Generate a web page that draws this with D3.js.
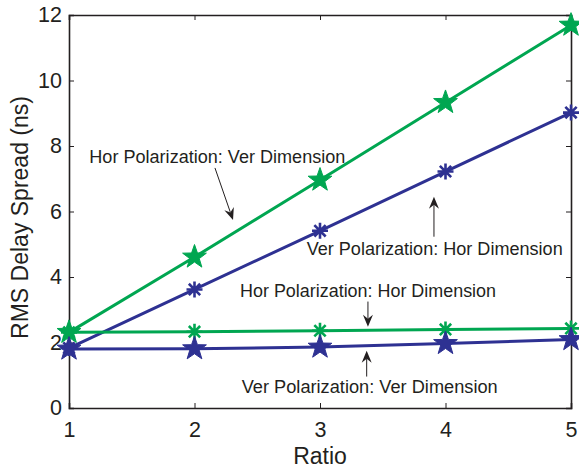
<!DOCTYPE html>
<html>
<head>
<meta charset="utf-8">
<script src="https://cdn.jsdelivr.net/npm/d3@7"></script>
<style>
  html, body { margin: 0; padding: 0; background: #fff; }
  svg text { font-family: "Liberation Sans", Arial, Helvetica, sans-serif; fill: #231f20; }
</style>
</head>
<body>
<svg id="chart" width="579" height="470"></svg>
<script>
// ---- data ----
const ratios = [1, 2, 3, 4, 5];
const horPolVerDim = [2.31, 4.61, 6.96, 9.33, 11.69];   // green, star
const verPolHorDim = [1.83, 3.62, 5.41, 7.22, 9.02];    // blue, asterisk
const horPolHorDim = [2.31, 2.33, 2.36, 2.40, 2.43];    // green, asterisk
const verPolVerDim = [1.80, 1.81, 1.86, 1.97, 2.09];    // blue, star
const xTicks = [1, 2, 3, 4, 5];
const yTicks = [0, 2, 4, 6, 8, 10, 12];
const xLabel = "Ratio";
const yLabel = "RMS Delay Spread (ns)";
const annotationTexts = [
  "Hor Polarization: Ver Dimension",
  "Ver Polarization: Hor Dimension",
  "Hor Polarization: Hor Dimension",
  "Ver Polarization: Ver Dimension"
];
// text anchor positions (data units)
const annotationTextX = [1.162, 2.894, 2.363, 2.376];
const annotationTextY = [7.49, 4.67, 3.40, 0.45];
// arrows (data units): start -> tip
const arrowFromX = [2.163, 3.908, 3.382, 3.372];
const arrowFromY = [7.33, 5.23, 3.25, 0.96];
const arrowToX = [2.307, 3.908, 3.382, 3.372];
const arrowToY = [5.74, 6.45, 2.48, 1.75];

const GREEN = "#00a651";
const BLUE = "#2e3192";

const series = [
  { values: horPolVerDim, color: GREEN, marker: "star" },
  { values: verPolHorDim, color: BLUE, marker: "asterisk" },
  { values: horPolHorDim, color: GREEN, marker: "asterisk" },
  { values: verPolVerDim, color: BLUE, marker: "star" }
];

// ---- layout ----
const svg = d3.select("#chart");
const L = 69, R = 571, T = 15, B = 408;
const x = d3.scaleLinear().domain([1, 5]).range([L, R]);
const y = d3.scaleLinear().domain([0, 12]).range([B, T]);

// axes
const axColor = "#231f20";
const gB = svg.append("g").attr("transform", `translate(0,${B})`)
  .call(d3.axisBottom(x).tickValues(xTicks).tickSize(-5).tickPadding(14).tickFormat(d3.format("d")));
const gT = svg.append("g").attr("transform", `translate(0,${T})`)
  .call(d3.axisTop(x).tickValues(xTicks).tickSize(-5).tickFormat(""));
const gL = svg.append("g").attr("transform", `translate(${L},0)`)
  .call(d3.axisLeft(y).tickValues(yTicks).tickSize(-5).tickPadding(7).tickFormat(d3.format("d")));
const gR = svg.append("g").attr("transform", `translate(${R},0)`)
  .call(d3.axisRight(y).tickValues(yTicks).tickSize(-5).tickFormat(""));
[gB, gT, gL, gR].forEach(g => {
  g.select(".domain").attr("stroke", axColor).attr("stroke-width", 1.6);
  g.selectAll(".tick line").attr("stroke", axColor).attr("stroke-width", 1);
  g.selectAll(".tick text").attr("font-size", 21.5).attr("fill", axColor)
    .style("font-family", "'Liberation Sans', Arial, sans-serif");
});
gB.selectAll(".tick text").attr("dy", "0.71em");

// axis labels
svg.append("text").attr("x", (L + R) / 2).attr("y", 464)
  .attr("text-anchor", "middle").attr("font-size", 23).text(xLabel);
svg.append("text")
  .attr("transform", `translate(28,${(T + B) / 2 + 6}) rotate(-90)`)
  .attr("text-anchor", "middle").attr("font-size", 23).text(yLabel);

// lines
const line = d3.line().x((d, i) => x(ratios[i])).y(d => y(d));
series.forEach(s => {
  svg.append("path").datum(s.values)
    .attr("d", line).attr("fill", "none")
    .attr("stroke", s.color).attr("stroke-width", 3);
});

// markers
function starPath(ro, ri) {
  const pts = [];
  for (let k = 0; k < 10; k++) {
    const a = -Math.PI / 2 + k * Math.PI / 5;
    const r = k % 2 === 0 ? ro : ri;
    pts.push([r * Math.cos(a), r * Math.sin(a)]);
  }
  return "M" + pts.map(p => p.join(",")).join("L") + "Z";
}
function asteriskPath(r) {
  let p = "";
  for (let k = 0; k < 4; k++) {
    const a = k * Math.PI / 4;
    p += `M${-r * Math.cos(a)},${-r * Math.sin(a)}L${r * Math.cos(a)},${r * Math.sin(a)}`;
  }
  return p;
}
series.forEach(s => {
  const g = svg.append("g");
  g.selectAll("path").data(s.values).join("path")
    .attr("transform", (d, i) => `translate(${x(ratios[i])},${y(d)})`)
    .attr("d", s.marker === "star" ? starPath(12.5, 5) : asteriskPath(8))
    .attr("fill", s.marker === "star" ? s.color : "none")
    .attr("stroke", s.color)
    .attr("stroke-width", s.marker === "star" ? 1 : 2.6)
    .attr("stroke-linejoin", "miter");
});

// annotations
annotationTexts.forEach((t, i) => {
  svg.append("text")
    .attr("x", x(annotationTextX[i])).attr("y", y(annotationTextY[i]))
    .attr("font-size", 17.5).attr("textLength", 256)
    .attr("lengthAdjust", "spacingAndGlyphs")
    .text(t);
});
annotationTexts.forEach((t, i) => {
  const x1 = x(arrowFromX[i]), y1 = y(arrowFromY[i]);
  const x2 = x(arrowToX[i]), y2 = y(arrowToY[i]);
  const ang = Math.atan2(y2 - y1, x2 - x1);
  const len = 12, hw = 5, back = 8;
  const g = svg.append("g");
  g.append("line")
    .attr("x1", x1).attr("y1", y1)
    .attr("x2", x2 - Math.cos(ang) * back).attr("y2", y2 - Math.sin(ang) * back)
    .attr("stroke", "#231f20").attr("stroke-width", 1);
  const c = Math.cos(ang), sn = Math.sin(ang);
  const bx = x2 - c * len, by = y2 - sn * len;
  const nx = x2 - c * back, ny = y2 - sn * back;
  g.append("path")
    .attr("d", `M${x2},${y2}L${bx - sn * hw},${by + c * hw}L${nx},${ny}L${bx + sn * hw},${by - c * hw}Z`)
    .attr("fill", "#231f20");
});
</script>
</body>
</html>
